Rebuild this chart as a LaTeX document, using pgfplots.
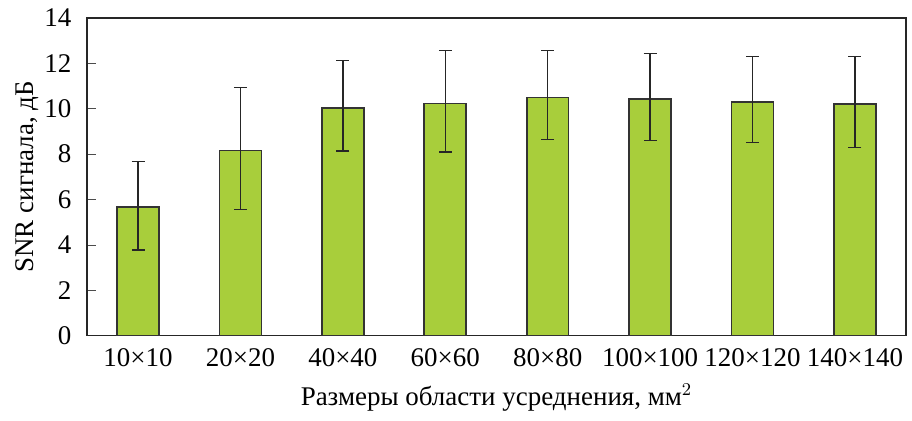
\documentclass[border=0pt]{standalone}
\usepackage{pgfplots}
\pgfplotsset{compat=1.18}
\usepackage{fontspec}
\setmainfont{Liberation Serif}
\definecolor{barg}{HTML}{A8CE3B}
\begin{document}
\begin{tikzpicture}
\fontsize{13.5}{16}\selectfont
\begin{axis}[
  scale only axis,
  width=410pt, height=159pt,
  xmin=-0.5, xmax=7.5,
  ymin=0, ymax=14,
  ytick={0,2,...,14},
  xtick={0,...,7},
  xticklabels={10×10,20×20,40×40,60×60,80×80,100×100,120×120,140×140},
  extra x ticks={0.5,1.5,...,6.5},
  extra x tick labels={},
  extra x tick style={major tick length=4pt, tick style={black!70}},
  xtick pos=bottom, ytick pos=left,
  tick align=inside,
  x tick style={draw=none},
  y tick style={black!70},
  major tick length=4.5pt,
  ticklabel style={font=\fontsize{13.5}{16}\selectfont},
  yticklabel style={xshift=-3pt},
  xticklabel style={yshift=-2pt},
  /pgf/number format/assume math mode=true,
  axis line style={black!85, line width=0.7pt},
  ylabel={SNR сигнала, дБ},
  xlabel={Размеры области усреднения, мм$^2$},
  label style={font=\fontsize{13.5}{16}\selectfont},
  ylabel style={yshift=-6.5pt},
  xlabel style={yshift=1pt},
]
\addplot[ybar, bar width=21pt, fill=barg, draw=black!80, line width=0.8pt,
  error bars/.cd, y dir=both, y explicit,
  error bar style={black!85, line width=0.65pt},
  error mark options={rotate=90, mark size=3.25pt, black!85, line width=0.65pt}]
coordinates {
  (0,5.66) += (0,2.02) -= (0,1.88)
  (1,8.15) += (0,2.78) -= (0,2.60)
  (2,10.04) += (0,2.09) -= (0,1.91)
  (3,10.23) += (0,2.34) -= (0,2.14)
  (4,10.49) += (0,2.08) -= (0,1.86)
  (5,10.42) += (0,2.01) -= (0,1.82)
  (6,10.30) += (0,2.01) -= (0,1.80)
  (7,10.20) += (0,2.11) -= (0,1.92)
};
\end{axis}
\path ([xshift=-3.5pt]current bounding box.south west);
\end{tikzpicture}
\end{document}
